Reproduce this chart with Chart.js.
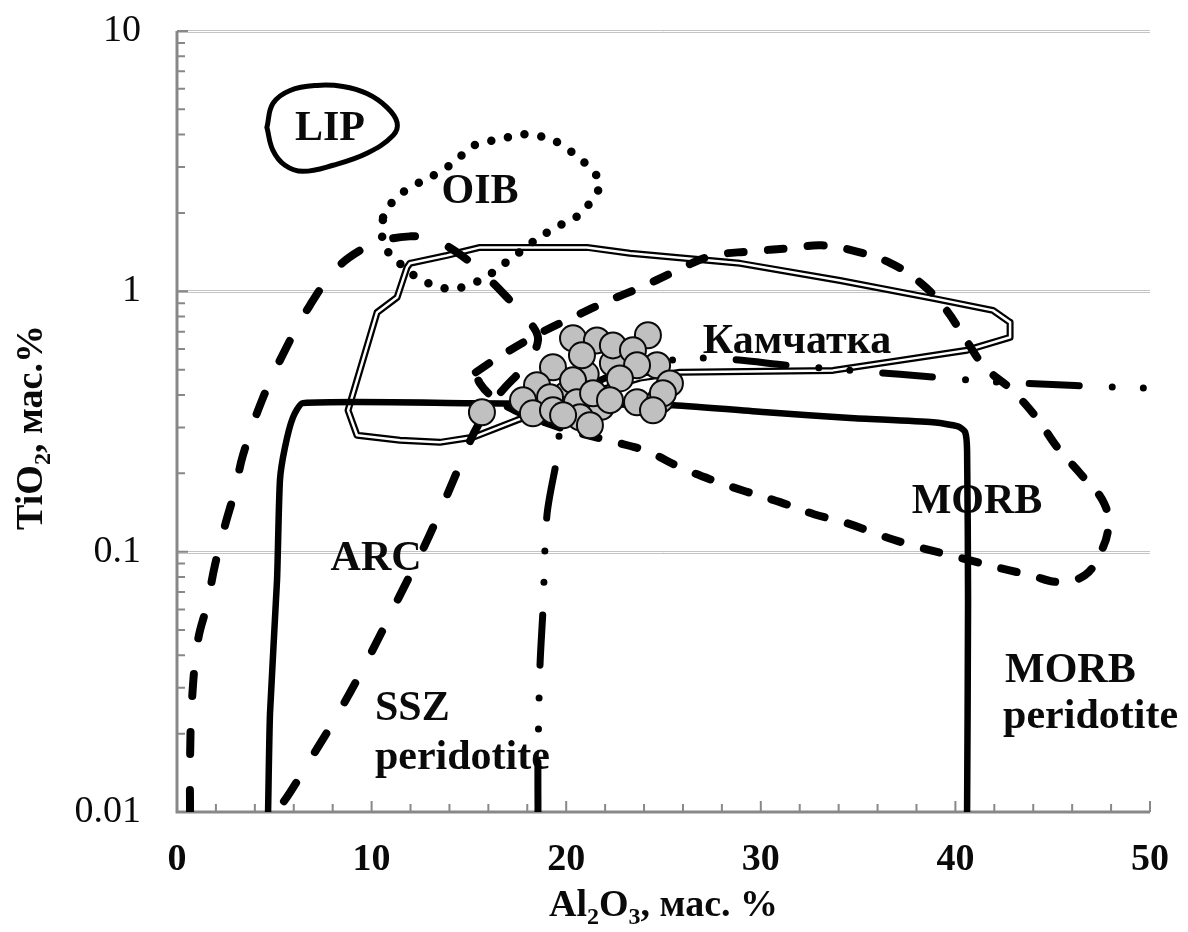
<!DOCTYPE html>
<html>
<head>
<meta charset="utf-8">
<script src="https://cdn.jsdelivr.net/npm/chart.js@4/dist/chart.umd.min.js"></script>
<style>
  html, body { margin: 0; padding: 0; background: #fff; }
</style>
</head>
<body>
<canvas id="diagram" width="1188" height="932"></canvas>
<script>

// Al2O3 (x) and TiO2 (y), wt.% for every field outline

const lip = [[4.62,4.26],[4.93,5.27],[5.81,5.91],[7.19,6.18],[8.53,6.12],[9.76,5.75],[10.79,5.09],[11.31,4.45],[11.10,3.97],[9.76,3.39],[8.02,3.05],[6.47,2.89],[5.55,3.05],[4.93,3.48],[4.62,4.26]];

const oib = [[10.59,1.92],[11.10,2.22],[11.82,2.46],[13.62,2.91],[14.39,3.21],[15.16,3.60],[16.03,3.77],[16.96,3.90],[17.93,4.01],[18.91,3.90],[19.73,3.67],[20.55,3.30],[21.22,2.97],[21.74,2.60],[21.33,2.26],[20.71,1.98],[19.84,1.82],[19.01,1.68],[18.24,1.54],[17.47,1.39],[16.70,1.26],[15.83,1.13],[15.01,1.06],[14.13,1.02],[13.16,1.06],[12.33,1.13],[11.56,1.26],[10.89,1.40],[10.53,1.64],[10.59,1.92]];

const arc = [[0.67,0.01],[0.67,0.0158],[0.77,0.0269],[1.08,0.0457],[1.54,0.0623],[1.95,0.0887],[2.47,0.1264],[2.98,0.172],[3.39,0.2347],[4.37,0.382],[5.55,0.594],[6.83,0.884],[8.12,1.205],[9.40,1.436],[10.69,1.570],[11.97,1.626],[13.0,1.598],[14.39,1.411],[15.83,1.151],[17.11,0.923],[18.14,0.760],[18.55,0.648],[17.88,0.520],[16.6,0.406],[15.47,0.306],[14.65,0.225],[13.77,0.158],[12.74,0.106],[11.46,0.0681],[9.92,0.0401],[8.38,0.0246],[6.83,0.0158],[5.81,0.0119],[5.19,0.0102]];

const morb = [[15.36,0.489],[16.60,0.563],[18.65,0.690],[20.45,0.802],[22.10,0.915],[23.95,1.045],[25.59,1.193],[27.39,1.362],[29.45,1.424],[31.5,1.463],[33.15,1.502],[34.89,1.424],[36.69,1.281],[38.18,1.083],[39.47,0.860],[40.49,0.660],[41.52,0.511],[42.91,0.417],[44.19,0.3255],[45.27,0.2497],[46.45,0.1984],[47.64,0.1535],[47.84,0.1209],[47.33,0.0953],[46.66,0.0813],[45.38,0.0764],[43.83,0.0813],[42.29,0.0865],[40.34,0.0944],[37.92,0.105],[36.13,0.1157],[34.43,0.1287],[32.73,0.1393],[30.99,0.155],[29.19,0.1707],[27.54,0.188],[25.85,0.211],[24.15,0.243],[22.35,0.2656],[20.71,0.285],[18.91,0.314],[17.37,0.349],[16.24,0.392],[15.57,0.443],[15.36,0.489]];

const kamchatka = [[11.97,1.281],[13.87,1.374],[15.57,1.475],[21.07,1.475],[23.28,1.40],[28.93,1.281],[34.07,1.10],[38.85,0.940],[41.93,0.845],[42.81,0.760],[42.81,0.666],[40.6,0.594],[37.15,0.543],[33.71,0.497],[25.85,0.489],[23.79,0.464],[21.74,0.417],[19.68,0.365],[17.47,0.320],[15.21,0.275],[13.51,0.263],[11.46,0.268],[9.25,0.280],[8.79,0.349],[10.28,0.830],[11.31,0.948],[11.82,1.236],[11.97,1.281]];

// SSZ / MORB peridotite outline (solid)
const peridotite = [[4.68,0.01],[4.78,0.024],[5.14,0.0778],[5.29,0.188],[5.55,0.252],[5.96,0.328],[6.47,0.372],[15.06,0.372],[21.74,0.368],[25.5,0.365],[30.3,0.343],[34.6,0.326],[38.85,0.314],[40.13,0.303],[40.5,0.288],[40.6,0.245],[40.65,0.065],[40.6,0.01]];

// dash-dot boundary
const boundary = [[18.55,0.01],[18.55,0.0158],[18.65,0.036],[18.81,0.0607],[19.01,0.138],[19.53,0.229],[19.84,0.320],[21.74,0.455],[26.26,0.553],[32.01,0.515],[37.15,0.480],[42.29,0.448],[50,0.424]];

// Kamchatka spinel analyses
const samples = [[15.67,0.343],[21.0,0.48],[20.0,0.40],[21.8,0.36],[22.40,0.529],[20.35,0.660],[21.58,0.648],[22.40,0.620],[24.20,0.678],[23.43,0.594],[20.81,0.568],[19.32,0.511],[24.67,0.520],[23.64,0.520],[22.76,0.463],[25.33,0.443],[20.35,0.455],[18.50,0.436],[17.78,0.382],[19.17,0.392],[20.55,0.375],[21.38,0.406],[23.64,0.375],[24.82,0.382],[24.97,0.406],[18.29,0.340],[19.32,0.349],[20.71,0.328],[21.22,0.306],[19.84,0.334],[24.46,0.349],[22.25,0.382]];

const xTicks = [0, 10, 20, 30, 40, 50];
const yTicks = [0.01, 0.1, 1, 10];
const yTickLabels = ['0.01', '0.1', '1', '10'];
const gridValues = [0.1, 1, 10];

const fieldLabels = [
    { text: 'LIP', x: 7.86, y: 3.80, align: 'center' },
    { text: 'OIB', x: 15.57, y: 2.18, align: 'center' },
    { text: 'Камчатка', x: 31.86, y: 0.578, align: 'center' },
    { text: 'MORB', x: 41.11, y: 0.1405, align: 'center' },
    { text: 'ARC', x: 10.23, y: 0.0849, align: 'center' },
    { text: 'SSZ', x: 10.17, y: 0.02256, align: 'left' },
    { text: 'peridotite', x: 10.17, y: 0.01463, align: 'left' },
    { text: 'MORB', x: 42.55, y: 0.03155, align: 'left' },
    { text: 'peridotite', x: 42.45, y: 0.0210, align: 'left' }
];

const FONT = "'Liberation Serif', 'Times New Roman', serif";
const INK = '#0a0a0a';


function curve(points, style){

    return Object.assign({
        data: points.map(([x, y]) => ({ x, y })),
        showLine: true,
        pointRadius: 0,
        pointHoverRadius: 0,
        borderColor: '#000',
        backgroundColor: 'transparent',
        fill: false,
        borderCapStyle: 'round',
        borderJoinStyle: 'round',
        order: 5
    }, style);

}


// text with subscript parts, e.g. Al2O3
function drawRich(ctx, parts, x, y, size){

    const big = 'bold ' + size + 'px ' + FONT;
    const small = 'bold ' + Math.round(size * 0.62) + 'px ' + FONT;

    let width = 0;
    parts.forEach(p => {
        ctx.font = p.sub ? small : big;
        width += ctx.measureText(p.t).width;
    });

    let cx = x - width / 2;
    ctx.textAlign = 'left';
    ctx.textBaseline = 'alphabetic';
    parts.forEach(p => {
        ctx.font = p.sub ? small : big;
        ctx.fillText(p.t, cx, p.sub ? y + size * 0.2 : y);
        cx += ctx.measureText(p.t).width;
    });

}


const axesAndText = {

    id: 'axesAndText',

    beforeDatasetsDraw(chart){

        const { ctx, chartArea: area } = chart;
        const sx = chart.scales.x;
        const sy = chart.scales.y;

        ctx.save();

        // light double gridlines at each decade
        gridValues.forEach(v => {
            const py = Math.round(sy.getPixelForValue(v)) + 0.5;
            ctx.beginPath();
            ctx.moveTo(area.left, py);
            ctx.lineTo(area.right, py);
            ctx.lineWidth = 3;
            ctx.strokeStyle = '#c4c4c4';
            ctx.stroke();
            ctx.lineWidth = 1;
            ctx.strokeStyle = '#ffffff';
            ctx.stroke();
        });

        // axis lines
        ctx.strokeStyle = '#888';
        ctx.lineWidth = 3;
        ctx.beginPath();
        ctx.moveTo(area.left, area.top);
        ctx.lineTo(area.left, area.bottom);
        ctx.lineTo(area.right, area.bottom);
        ctx.stroke();

        // inward tick marks
        ctx.lineWidth = 2;
        ctx.beginPath();
        for(let v = 0; v <= 50; v += 2){
            const px = sx.getPixelForValue(v);
            const len = v % 10 === 0 ? 11 : 8;
            ctx.moveTo(px, area.bottom);
            ctx.lineTo(px, area.bottom - len);
        }
        yTicks.forEach((d, i) => {
            const py = sy.getPixelForValue(d);
            ctx.moveTo(area.left, py);
            ctx.lineTo(area.left + 11, py);
            if(i === yTicks.length - 1) return;
            for(let k = 2; k <= 9; k++){
                const pm = sy.getPixelForValue(d * k);
                ctx.moveTo(area.left, pm);
                ctx.lineTo(area.left + 8, pm);
            }
        });
        ctx.stroke();

        // tick labels
        ctx.fillStyle = INK;
        ctx.font = '38px ' + FONT;
        ctx.textAlign = 'right';
        ctx.textBaseline = 'middle';
        yTicks.forEach((v, i) => {
            ctx.fillText(yTickLabels[i], area.left - 36, sy.getPixelForValue(v));
        });

        ctx.font = 'bold 38px ' + FONT;
        ctx.textAlign = 'center';
        xTicks.forEach(v => {
            ctx.fillText(String(v), sx.getPixelForValue(v), area.bottom + 48);
        });

        // axis titles
        drawRich(ctx, [
            { t: 'Al' }, { t: '2', sub: true }, { t: 'O' }, { t: '3', sub: true }, { t: ', мас. %' }
        ], (area.left + area.right) / 2, area.bottom + 104, 38);

        ctx.save();
        ctx.translate(42, (area.top + area.bottom) / 2 + 6);
        ctx.rotate(-Math.PI / 2);
        drawRich(ctx, [
            { t: 'TiO' }, { t: '2', sub: true }, { t: ', мас.%' }
        ], 0, 0, 38);
        ctx.restore();

        // field names
        ctx.font = 'bold 42px ' + FONT;
        ctx.textBaseline = 'alphabetic';
        fieldLabels.forEach(l => {
            ctx.textAlign = l.align;
            ctx.fillText(l.text, sx.getPixelForValue(l.x), sy.getPixelForValue(l.y));
        });

        ctx.restore();

    }

};


const datasets = [

    {
        data: samples.map(([x, y]) => ({ x, y })),
        showLine: false,
        pointRadius: 13,
        pointHoverRadius: 13,
        pointBackgroundColor: '#c0c0c0',
        pointBorderColor: INK,
        pointBorderWidth: 2,
        order: 0
    },

    curve(kamchatka, { borderColor: '#ffffff', borderWidth: 2.5, tension: 0, order: 9 }),
    curve(kamchatka, { borderColor: '#000', borderWidth: 7, tension: 0, order: 10 }),

    curve(lip, { borderWidth: 5, tension: 0.4 }),
    curve(oib, { borderWidth: 8.5, borderDash: [0, 17], tension: 0.4 }),
    curve(arc, { borderWidth: 8, borderDash: [22, 36], tension: 0.4 }),
    curve(morb, { borderWidth: 8, borderDash: [16, 24], tension: 0.4 }),
    curve(peridotite, { borderWidth: 6.5, tension: 0.2 }),
    curve(boundary, { borderWidth: 7, borderDash: [50, 33, 0, 31, 0, 33], tension: 0.3 })

];


new Chart(document.getElementById('diagram'), {

    type: 'scatter',
    data: { datasets: datasets },
    options: {
        responsive: false,
        animation: false,
        events: [],
        layout: { padding: { left: 177, top: 31, right: 38, bottom: 120 } },
        plugins: {
            legend: { display: false },
            tooltip: { enabled: false }
        },
        scales: {
            x: { type: 'linear', min: 0, max: 50, display: false },
            y: { type: 'logarithmic', min: 0.01, max: 10, display: false }
        }
    },
    plugins: [axesAndText]

});

</script>
</body>
</html>
